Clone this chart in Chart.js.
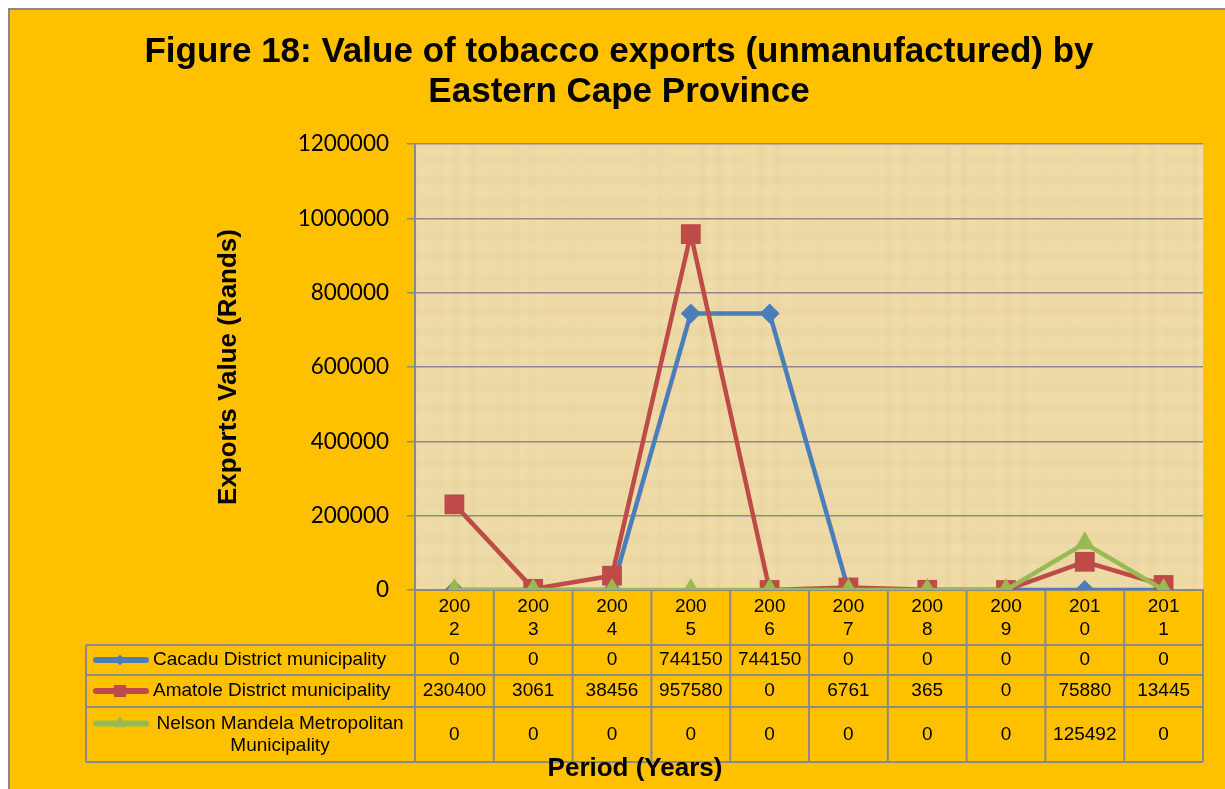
<!DOCTYPE html>
<html>
<head>
<meta charset="utf-8">
<script src="https://cdn.jsdelivr.net/npm/chart.js@4"></script>
<style>
  html, body { margin: 0; padding: 0; background: #fff; }
  canvas { display: block; }
</style>
</head>
<body>
<canvas id="myChart" width="1225" height="789"></canvas>
<script>
const years = ['2002','2003','2004','2005','2006','2007','2008','2009','2010','2011'];
const yearLabels = [['200','2'],['200','3'],['200','4'],['200','5'],['200','6'],['200','7'],['200','8'],['200','9'],['201','0'],['201','1']];
const cacadu  = [0, 0, 0, 744150, 744150, 0, 0, 0, 0, 0];
const amatole = [230400, 3061, 38456, 957580, 0, 6761, 365, 0, 75880, 13445];
const nelson  = [0, 0, 0, 0, 0, 0, 0, 0, 125492, 0];
const seriesNames = ['Cacadu District municipality', 'Amatole District municipality', ['Nelson Mandela Metropolitan', 'Municipality']];
const yTicks = [0, 200000, 400000, 600000, 800000, 1000000, 1200000];

const colors = ['#4A7EBB', '#BE4B48', '#98B954'];
const styles = ['rectRot', 'rect', 'triangle'];
const radii = [10, 14, 12];
const keyRadii = [5.5, 8.5, 7.5];
const GRAY = '#8a8a8a';

// orange frame + papyrus-like plot background
const frame = {
  id: 'frame',
  beforeDraw(chart) {
    const c = chart.ctx, a = chart.chartArea;
    c.save();
    c.fillStyle = '#fff';
    c.fillRect(0, 0, chart.width, chart.height);
    c.fillStyle = '#FFC000';
    c.fillRect(8, 8, chart.width - 8, chart.height - 8);
    c.strokeStyle = GRAY;
    c.lineWidth = 2;
    c.beginPath();
    c.moveTo(9, chart.height); c.lineTo(9, 9); c.lineTo(chart.width, 9);
    c.stroke();

    c.fillStyle = '#EEDAA6';
    c.fillRect(a.left, a.top, a.width, a.height);
    // faint fibres
    for (let x = a.left; x < a.right; x += 3) {
      const k = Math.sin(x * 0.37) * Math.sin(x * 0.051) * Math.cos(x * 0.013);
      c.fillStyle = k > 0 ? 'rgba(170,130,60,' + (0.045 * k) + ')' : 'rgba(255,246,215,' + (-0.09 * k) + ')';
      c.fillRect(x, a.top, 3, a.height);
    }
    for (let y = a.top; y < a.bottom; y += 4) {
      const k = Math.sin(y * 0.29) * Math.sin(y * 0.043);
      c.fillStyle = k > 0 ? 'rgba(160,120,50,' + (0.035 * k) + ')' : 'rgba(255,246,215,' + (-0.06 * k) + ')';
      c.fillRect(a.left, y, a.width, 4);
    }
    c.restore();
  }
};

function marker(c, style, x, y, r, color) {
  c.fillStyle = color;
  c.beginPath();
  if (style === 'rect') {
    const s = r * Math.SQRT1_2;
    c.rect(x - s, y - s, 2 * s, 2 * s);
  } else if (style === 'rectRot') {
    c.moveTo(x - r, y); c.lineTo(x, y - r); c.lineTo(x + r, y); c.lineTo(x, y + r); c.closePath();
  } else {
    c.moveTo(x, y - r); c.lineTo(x + r * 0.866, y + r / 2); c.lineTo(x - r * 0.866, y + r / 2); c.closePath();
  }
  c.fill();
}

// data table under the plot
const table = {
  id: 'table',
  afterDraw(chart) {
    const c = chart.ctx, xs = chart.scales.x, a = chart.chartArea;
    const half = (xs.getPixelForValue(1) - xs.getPixelForValue(0)) / 2;
    const rowLines = [a.bottom + 55, a.bottom + 85, a.bottom + 117, a.bottom + 172];
    const legLeft = 86;
    c.save();
    c.strokeStyle = GRAY;
    c.lineWidth = 2;
    c.beginPath();
    for (let i = 0; i <= years.length; i++) {
      const x = i < years.length ? xs.getPixelForValue(i) - half : xs.getPixelForValue(years.length - 1) + half;
      c.moveTo(x, a.bottom); c.lineTo(x, rowLines[3]);
    }
    c.moveTo(legLeft, rowLines[0]); c.lineTo(legLeft, rowLines[3]);
    rowLines.forEach(y => { c.moveTo(legLeft, y); c.lineTo(a.right, y); });
    c.stroke();

    c.font = '19px "Liberation Sans", Arial, sans-serif';
    c.textBaseline = 'middle';
    chart.data.datasets.forEach((ds, r) => {
      const yc = (rowLines[r] + rowLines[r + 1]) / 2;
      c.textAlign = 'center';
      c.fillStyle = '#000';
      ds.data.forEach((v, i) => c.fillText(String(v), xs.getPixelForValue(i), yc));
      const name = seriesNames[r];
      const ky = Array.isArray(name) ? yc - 11 : yc;
      // legend key
      c.strokeStyle = colors[r];
      c.lineWidth = 6;
      c.lineCap = 'round';
      c.beginPath(); c.moveTo(96, ky); c.lineTo(146, ky); c.stroke();
      marker(c, styles[r], 120, ky, keyRadii[r], colors[r]);
      c.fillStyle = '#000';
      if (Array.isArray(name)) {
        c.textAlign = 'center';
        c.fillText(name[0], 280, yc - 11);
        c.fillText(name[1], 280, yc + 11);
      } else {
        c.textAlign = 'left';
        c.fillText(name, 153, yc);
      }
    });

    c.font = 'bold 26px "Liberation Sans", Arial, sans-serif';
    c.textAlign = 'center';
    c.fillText('Period (Years)', 635, 769);
    c.restore();
  }
};

const ctx = document.getElementById('myChart');

new Chart(ctx, {
  type: 'line',
  data: {
    labels: yearLabels,
    datasets: [
      { label: 'Cacadu District municipality', data: cacadu, order: 2 },
      { label: 'Amatole District municipality', data: amatole, order: 1 },
      { label: 'Nelson Mandela Metropolitan Municipality', data: nelson, order: 0 }
    ].map((d, i) => Object.assign(d, {
      borderColor: colors[i],
      backgroundColor: colors[i],
      borderWidth: 4.5,
      tension: 0,
      pointStyle: styles[i],
      pointRadius: radii[i],
      pointBorderWidth: 0,
      pointBackgroundColor: colors[i]
    }))
  },
  options: {
    responsive: false,
    animation: false,
    devicePixelRatio: 1,
    layout: { padding: { top: 8, left: 35, right: 22, bottom: 8 } },
    plugins: {
      legend: { display: false },
      tooltip: { enabled: false },
      title: {
        display: true,
        text: ['Figure 18: Value of tobacco exports (unmanufactured) by', 'Eastern Cape Province'],
        color: '#000',
        font: { family: '"Liberation Sans", Arial, sans-serif', size: 35, weight: 'bold', lineHeight: 40 / 35 },
        padding: { top: 24, bottom: 32 }
      }
    },
    scales: {
      x: {
        offset: true,
        afterFit: s => { s.height = 191; },
        grid: { display: true, drawOnChartArea: false, drawTicks: false },
        border: { color: GRAY, width: 2 },
        ticks: {
          color: '#000',
          padding: 5,
          maxRotation: 0,
          autoSkip: false,
          font: { family: '"Liberation Sans", Arial, sans-serif', size: 19, lineHeight: 23 / 19 }
        }
      },
      y: {
        min: yTicks[0],
        max: yTicks[yTicks.length - 1],
        afterFit: s => { s.width = 380; },
        afterBuildTicks: s => { s.ticks = yTicks.map(v => ({ value: v })); },
        grid: { color: GRAY, lineWidth: 1.5, tickLength: 8 },
        border: { color: GRAY, width: 2 },
        ticks: {
          color: '#000',
          padding: 18,
          callback: v => String(v),
          font: { family: 'Lato, sans-serif', size: 22.5 }
        },
        title: {
          display: true,
          text: 'Exports Value (Rands)',
          color: '#000',
          padding: { top: 178, bottom: 0 },
          font: { family: '"Liberation Sans", Arial, sans-serif', size: 26, weight: 'bold' }
        }
      }
    }
  },
  plugins: [frame, table]
});
</script>
</body>
</html>
